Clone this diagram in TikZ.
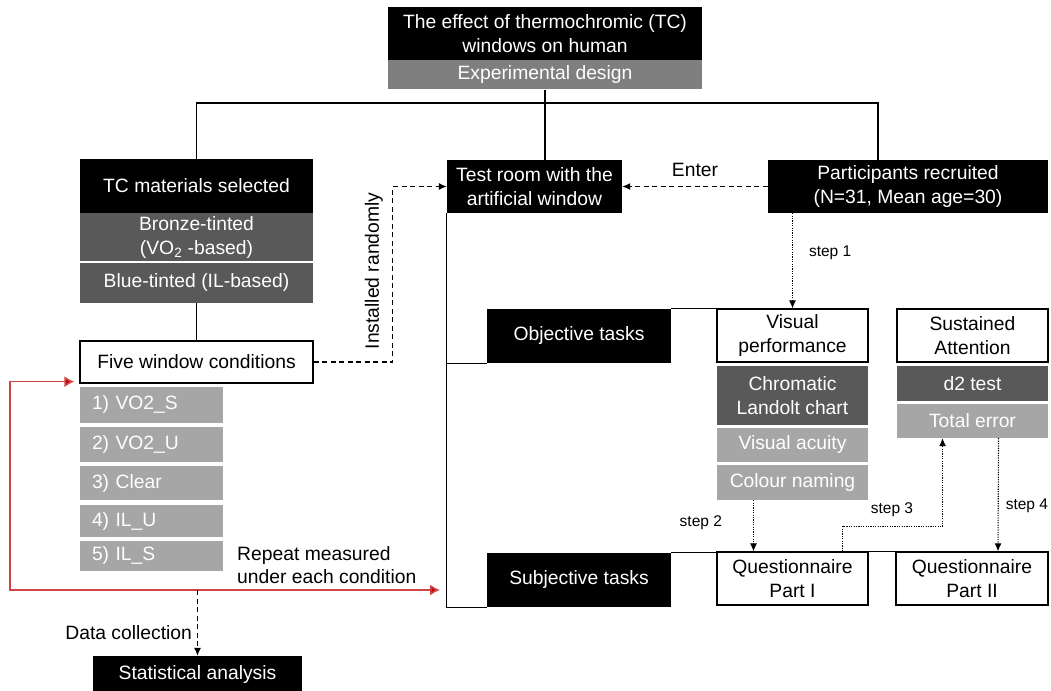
\documentclass[tikz,border=0pt]{standalone}
\usepackage{fontspec}
\setmainfont{Liberation Sans}
\usetikzlibrary{arrows.meta,positioning,calc}
\definecolor{fillmid}{HTML}{7F7F7F}
\definecolor{filldark}{HTML}{595959}
\definecolor{filllight}{HTML}{A6A6A6}
\definecolor{loopred}{HTML}{C00000}

\begin{document}
\begin{tikzpicture}[
    x=1pt, y=-1pt,
    every node/.style={font=\fontsize{19.3}{23.5}\selectfont, inner sep=0pt, align=center},
    blackbox/.style={fill=black, text=white},
    midbox/.style={fill=fillmid, text=white},
    darkbox/.style={fill=filldark, text=white},
    lightbox/.style={fill=filllight, text=white},
    whitebox/.style={draw=black, line width=1.3pt, fill=white},
    cond/.style={lightbox, minimum width=143pt, text width=119pt, inner xsep=12pt, align=left},
    link/.style={line width=1.3pt},
    dashlink/.style={line width=1.1pt, dash pattern=on 5pt off 3.5pt, -{Latex[length=8pt,width=7pt]}},
    dotlink/.style={line width=1.1pt, dash pattern=on 1.2pt off 1.2pt, -{Latex[length=8pt,width=7pt]}},
    loopline/.style={draw={rgb,255:red,205;green,70;blue,70}, line width=1.6pt,
        {Latex[length=10pt,width=11pt,fill=loopred]}-{Latex[length=10pt,width=11pt,fill=loopred]}},
    steplbl/.style={font=\fontsize{15.5}{18}\selectfont}
]
\useasboundingbox (0,0) rectangle (1051,690);

% --- Title ---
\node[blackbox, minimum width=314pt, minimum height=53pt] (title) at (545,33.5) {The effect of thermochromic (TC)\\windows on human};
\node[midbox, minimum width=314pt, minimum height=29pt, below=0pt of title] (design) {Experimental design};

% --- Left column: materials and conditions ---
\node[blackbox, minimum width=233pt, minimum height=54pt] (tcmat) at (196.5,186) {TC materials selected};
\node[darkbox, minimum width=233pt, minimum height=48pt, below=0pt of tcmat] (bronze) {Bronze-tinted\\(VO\textsubscript{2} -based)};
\node[darkbox, minimum width=233pt, minimum height=40pt] (blue) at (196.5,283) {Blue-tinted (IL-based)};
\node[whitebox, minimum width=233pt, minimum height=42pt] (five) at (196.5,362) {Five window conditions};

\node[cond, minimum height=36pt] (c1) at (151.5,405) {1) VO2\_S};
\node[cond, minimum height=35pt] (c2) at (151.5,444.5) {2) VO2\_U};
\node[cond, minimum height=34pt] (c3) at (151.5,483) {3) Clear};
\node[cond, minimum height=32pt] (c4) at (151.5,521) {4) IL\_U};
\node[cond, minimum height=30pt] (c5) at (151.5,555.5) {5) IL\_S};

\node[blackbox, minimum width=209pt, minimum height=38pt] (stats) at (197.5,675) {Statistical analysis};

% --- Test room and participants ---
\node[blackbox, minimum width=175pt, minimum height=53pt] (test) at (534.5,186.5) {Test room with the\\artificial window};
\node[blackbox, minimum width=280pt, minimum height=53pt] (part) at (908,186.5) {Participants recruited\\(N=31, Mean age=30)};

% --- Tasks ---
\node[blackbox, minimum width=184pt, minimum height=54pt] (objective) at (579,336) {Objective tasks};
\node[whitebox, minimum width=151pt, minimum height=53pt] (visual) at (792.5,335.5) {Visual\\performance};
\node[whitebox, minimum width=151pt, minimum height=53pt] (sustained) at (972.5,335.5) {Sustained\\Attention};
\node[darkbox, minimum width=151pt, minimum height=59pt] (chromatic) at (792.5,395.5) {Chromatic\\Landolt chart};
\node[lightbox, minimum width=151pt, minimum height=34pt] (acuity) at (792.5,445) {Visual acuity};
\node[lightbox, minimum width=151pt, minimum height=35pt] (naming) at (792.5,482.5) {Colour naming};
\node[darkbox, minimum width=151pt, minimum height=35pt] (d2) at (972.5,383.5) {d2 test};
\node[lightbox, minimum width=151pt, minimum height=34pt] (error) at (972.5,421) {Total error};

\node[blackbox, minimum width=184pt, minimum height=54pt] (subjective) at (579,580) {Subjective tasks};
\node[whitebox, minimum width=151pt, minimum height=53pt] (q1) at (792.5,578.5) {Questionnaire\\Part I};
\node[whitebox, minimum width=152pt, minimum height=53pt] (q2) at (972,578.5) {Questionnaire\\Part II};

% --- Tree from the title ---
\coordinate (bus) at (545,103);
\draw[link] (tcmat.north) |- (bus) -| ([xshift=-30pt]part.north);
\draw[link] (design.south) -- (design.south |- test.north);
\draw[link] (blue.south) -- (five.north);

% --- Bracket of the test room ---
\draw[link] (test.south west) -- (test.south west |- subjective.south) -- (subjective.south west);
\draw[link] (objective.south west) -- (objective.south west -| test.west);
\draw[link] (objective.north east) -- (objective.north east -| visual.west);
\draw[link] (subjective.north east) -- (subjective.north east -| q1.west);
\draw[link] (q1.north east) -- (q1.north east -| q2.west);

% --- Dashed connectors ---
\draw[dashlink] (five.east) -- ++(79,0) |- (test.west);
\node[rotate=90] (inst) at (374,271) {Installed randomly};
\draw[dashlink] (part.west) -- node[above=9.5pt] (enter) {Enter} (test.east);

% --- Steps ---
\draw[dotlink] (visual.north |- part.south) -- node[steplbl, right=16pt, pos=0.42] (s1) {step 1} (visual.north);
\draw[dotlink] ([xshift=-39pt]naming.south) -- node[steplbl, left=31pt, pos=0.44] (s2) {step 2} ([xshift=-39pt]q1.north);
\draw[dotlink] ([xshift=50pt]q1.north) -- ++(0,-25) -| ([xshift=-30pt]error.south);
\node[steplbl] (s3) at (892,510) {step 3};
\draw[dotlink] ([xshift=26pt]error.south) -- node[steplbl, right=7pt, pos=0.6] (s4) {step 4} ([xshift=26pt]q2.north);

% --- Repeat loop and data collection ---
\coordinate (loop) at (10,590);
\coordinate (room) at (440,590);
\draw[loopline] ([xshift=-5pt,yshift=2pt]five.south west) -| (loop) -- (room);
\node[align=left, anchor=west] (repeat) at (237,565) {Repeat measured\\under each condition};
\coordinate (dc) at (stats.north |- loop);
\draw[dashlink] (dc) -- node[left=5pt, pos=0.65] (data) {Data collection} (stats.north);

\end{tikzpicture}
\end{document}
